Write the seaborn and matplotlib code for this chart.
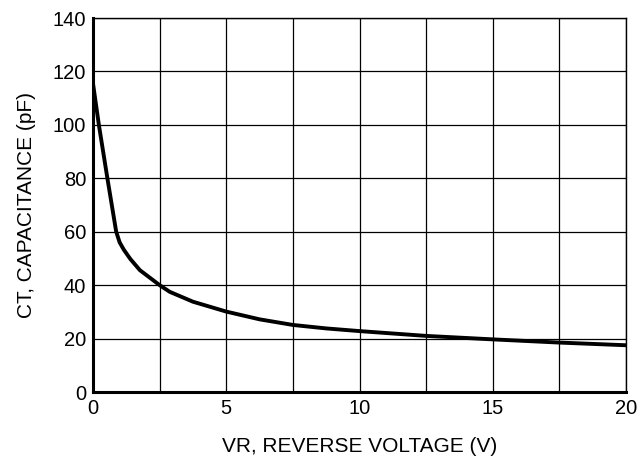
import matplotlib
matplotlib.use("Agg")
import matplotlib.pyplot as plt
import seaborn as sns
import pandas as pd
import numpy as np

voltage = [0, 0.22, 0.54, 0.87, 1.0, 1.16, 1.4, 1.76, 2.5, 2.88, 3.75, 5.0, 6.25, 7.5, 8.75, 10.0, 12.5, 15.0, 17.5, 20.0]
capacitance = [115.5, 100, 80, 60, 56, 53.2, 49.8, 45.6, 40, 37.5, 33.8, 30.1, 27.2, 25.1, 23.8, 22.8, 21.0, 19.7, 18.5, 17.5]
x_ticks = [0, 5, 10, 15, 20]
y_ticks = [0, 20, 40, 60, 80, 100, 120, 140]

sns.set_style("white")
plt.rcParams['font.family'] = ['Liberation Sans', 'DejaVu Sans']
plt.rcParams['text.color'] = 'black'
plt.rcParams['axes.labelcolor'] = 'black'
plt.rcParams['xtick.color'] = 'black'
plt.rcParams['ytick.color'] = 'black'

df = pd.DataFrame({"VR": voltage, "CT": capacitance})

fig = plt.figure(figsize=(6.38, 4.61), dpi=100)
ax = fig.add_axes([93/638, 1 - 392/461, (626-93)/638, (392-18)/461])

sns.lineplot(data=df, x="VR", y="CT", ax=ax, color="black", linewidth=2.8, zorder=3)

ax.set_xlim(0, 20)
ax.set_ylim(0, 140)
ax.set_xticks(np.arange(0, 20.01, 2.5), minor=True)
ax.set_xticks(x_ticks)
ax.set_xticklabels([str(t) for t in x_ticks], fontsize=14.5)
ax.set_yticks(y_ticks)
ax.set_yticklabels([str(t) for t in y_ticks], fontsize=14.5)
ax.grid(True, which="both", axis="x", color="black", linewidth=0.9)
ax.grid(True, which="major", axis="y", color="black", linewidth=0.9)
ax.tick_params(which="both", length=0, pad=5)

for s in ["left", "bottom"]:
    ax.spines[s].set_linewidth(2.2)
    ax.spines[s].set_color("black")
for s in ["top", "right"]:
    ax.spines[s].set_linewidth(1)
    ax.spines[s].set_color("black")

ax.set_xlabel("VR, REVERSE VOLTAGE (V)", fontsize=15, labelpad=14)
ax.set_ylabel("CT, CAPACITANCE (pF)", fontsize=15, labelpad=12)

fig.savefig("out.png", dpi=100)
